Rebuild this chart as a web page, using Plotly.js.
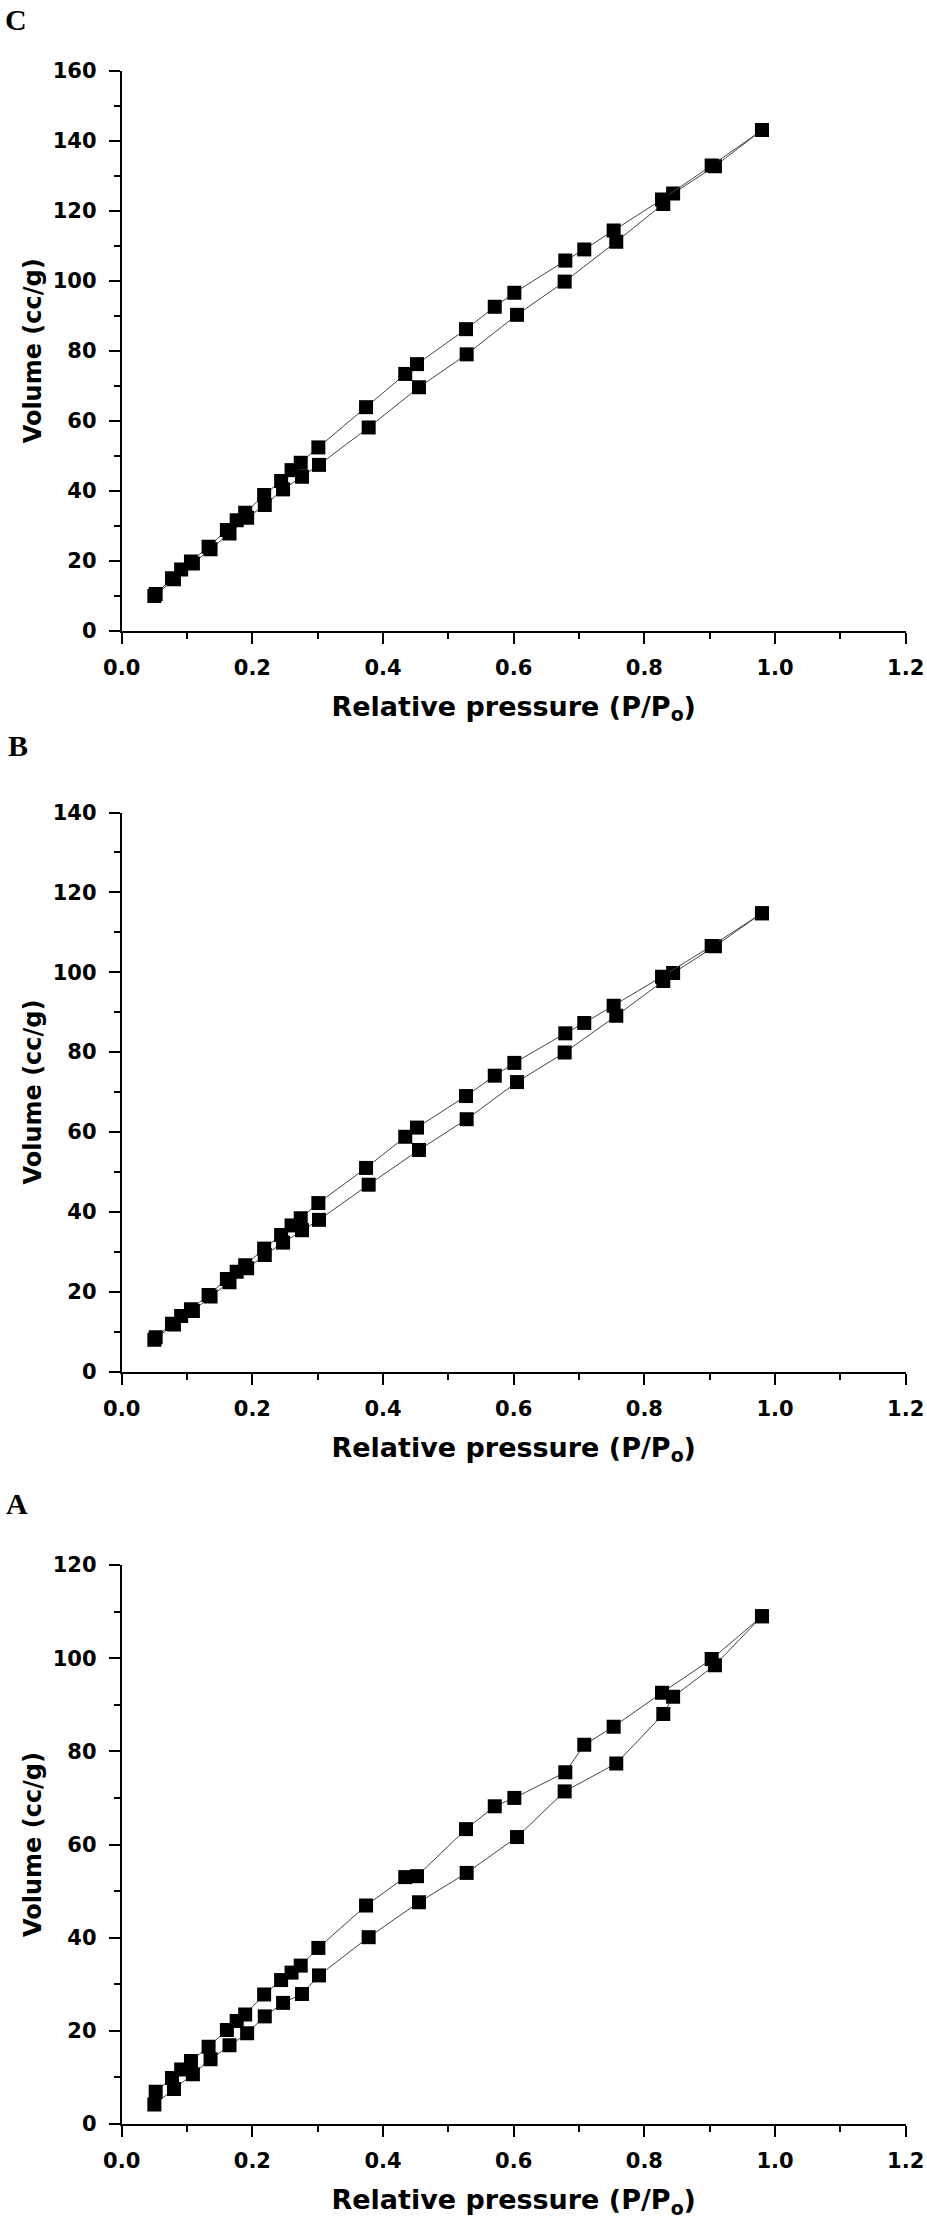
<!DOCTYPE html>
<html>
<head>
<meta charset="utf-8">
<script src="https://cdn.plot.ly/plotly-3.0.1.min.js"></script>
<style>
  html, body { margin: 0; padding: 0; background: #fff; }
  #chart { width: 927px; height: 2222px; }
</style>
</head>
<body>
<div id="chart"></div>
<script>
// Relative pressure points (P/Po)
const pAds = [0.050, 0.080, 0.109, 0.136, 0.165, 0.192, 0.219, 0.247, 0.276, 0.302, 0.378, 0.455, 0.528, 0.605, 0.678, 0.757, 0.829, 0.844, 0.908, 0.980];
const pDes = [0.980, 0.903, 0.827, 0.753, 0.708, 0.679, 0.601, 0.571, 0.527, 0.452, 0.434, 0.374, 0.301, 0.274, 0.260, 0.244, 0.218, 0.189, 0.176, 0.161, 0.133, 0.106, 0.091, 0.077, 0.052];

// Panel C volumes (cc/g)
const adsC = [9.9, 14.7, 19.2, 23.3, 27.8, 32.3, 35.9, 40.4, 44.0, 47.4, 58.1, 69.6, 79.0, 90.3, 99.8, 111.2, 122.0, 125.0, 132.8, 143.1];
const desC = [143.1, 133.0, 123.3, 114.4, 109.0, 105.8, 96.6, 92.6, 86.2, 76.2, 73.4, 63.9, 52.4, 48.0, 45.9, 42.8, 38.8, 33.7, 31.6, 28.8, 24.0, 19.8, 17.5, 15.0, 10.5];

// Panel B volumes (cc/g)
const adsB = [8.0, 11.8, 15.2, 18.8, 22.4, 25.9, 29.2, 32.3, 35.4, 38.0, 46.8, 55.5, 63.2, 72.5, 79.9, 89.1, 97.8, 99.8, 106.5, 114.8];
const desB = [114.8, 106.6, 98.9, 91.6, 87.3, 84.7, 77.3, 74.1, 69.0, 61.1, 58.8, 51.0, 42.2, 38.4, 36.6, 34.2, 30.8, 26.6, 25.0, 23.2, 19.2, 15.6, 13.9, 12.0, 8.6];

// Panel A volumes (cc/g)
const adsA = [4.2, 7.5, 10.7, 13.9, 16.9, 19.5, 23.1, 26.0, 27.9, 31.9, 40.1, 47.6, 53.9, 61.6, 71.4, 77.4, 88.0, 91.7, 98.5, 109.0];
const desA = [109.0, 99.8, 92.6, 85.3, 81.4, 75.5, 70.0, 68.2, 63.3, 53.2, 53.0, 46.9, 37.8, 34.0, 32.5, 30.9, 27.8, 23.5, 22.1, 20.2, 16.6, 13.5, 11.7, 9.9, 6.9];

const panelLabels = ['C', 'B', 'A'];
const yMax = [160, 140, 120];
const xTicks = [0.0, 0.2, 0.4, 0.6, 0.8, 1.0, 1.2];
const xTitle = 'Relative pressure (P/P<sub>o</sub>)';
const yTitle = 'Volume (cc/g)';

const W = 927, H = 2222;
const xDom = [121.7 / W, 905.7 / W];
const yDomPx = [[71, 630.7], [812.5, 1371.6], [1565, 2124]];
const labelPos = [[3, 20], [6, 746], [4, 1504]];

const tickFont = { family: 'DejaVu Sans', size: 21, color: '#000', weight: 700 };
const xTitleFont = { family: 'DejaVu Sans', size: 27, color: '#000', weight: 700 };
const yTitleFont = { family: 'DejaVu Sans', size: 24, color: '#000', weight: 700 };

const sets = [[adsC, desC], [adsB, desB], [adsA, desA]];
const traces = [];
sets.forEach((s, i) => {
  const sfx = i === 0 ? '' : String(i + 1);
  const common = {
    type: 'scatter', mode: 'lines+markers',
    xaxis: 'x' + sfx, yaxis: 'y' + sfx,
    line: { color: '#444', width: 1 },
    marker: { symbol: 'square', size: 14, color: '#000' },
    showlegend: false, hoverinfo: 'x+y'
  };
  traces.push(Object.assign({}, common, { x: pAds, y: s[0], name: 'Adsorption ' + panelLabels[i] }));
  traces.push(Object.assign({}, common, { x: pDes, y: s[1], name: 'Desorption ' + panelLabels[i] }));
});

const layout = {
  width: W, height: H, autosize: false,
  margin: { l: 0, r: 0, t: 0, b: 0, pad: 0 },
  paper_bgcolor: '#fff', plot_bgcolor: '#fff',
  showlegend: false,
  annotations: []
};

const axisCommon = {
  showline: true, linecolor: '#000', linewidth: 2,
  ticks: 'outside', ticklen: 11, tickwidth: 2, tickcolor: '#000',
  showgrid: false, zeroline: false, mirror: false,
  tickfont: tickFont, fixedrange: true
};

for (let i = 0; i < 3; i++) {
  const sfx = i === 0 ? '' : String(i + 1);
  const dom = [1 - yDomPx[i][1] / H, 1 - yDomPx[i][0] / H];
  layout['xaxis' + sfx] = Object.assign({}, axisCommon, {
    domain: xDom, anchor: 'y' + sfx, range: [0, 1.2],
    tickvals: xTicks, ticktext: xTicks.map(v => v.toFixed(1)),
    ticklabelstandoff: 6,
    minor: { ticks: 'outside', ticklen: 6, tickwidth: 2, tickcolor: '#000', dtick: 0.1, tick0: 0, showgrid: false },
    title: { text: xTitle, font: xTitleFont, standoff: 18 }
  });
  layout['yaxis' + sfx] = Object.assign({}, axisCommon, {
    domain: dom, anchor: 'x' + sfx, range: [0, yMax[i]],
    dtick: 20, tick0: 0,
    ticklabelstandoff: 8,
    minor: { ticks: 'outside', ticklen: 6, tickwidth: 2, tickcolor: '#000', dtick: 10, tick0: 0, showgrid: false },
    title: { text: yTitle, font: yTitleFont, standoff: 4 }
  });
  layout.annotations.push({
    text: panelLabels[i], xref: 'paper', yref: 'paper',
    x: labelPos[i][0] / W, y: 1 - labelPos[i][1] / H,
    xanchor: 'left', yanchor: 'middle', showarrow: false,
    font: { family: 'Liberation Serif', size: 30, color: '#000', weight: 700 }
  });
}

Plotly.newPlot('chart', traces, layout, { staticPlot: true, displayModeBar: false });
</script>
</body>
</html>
